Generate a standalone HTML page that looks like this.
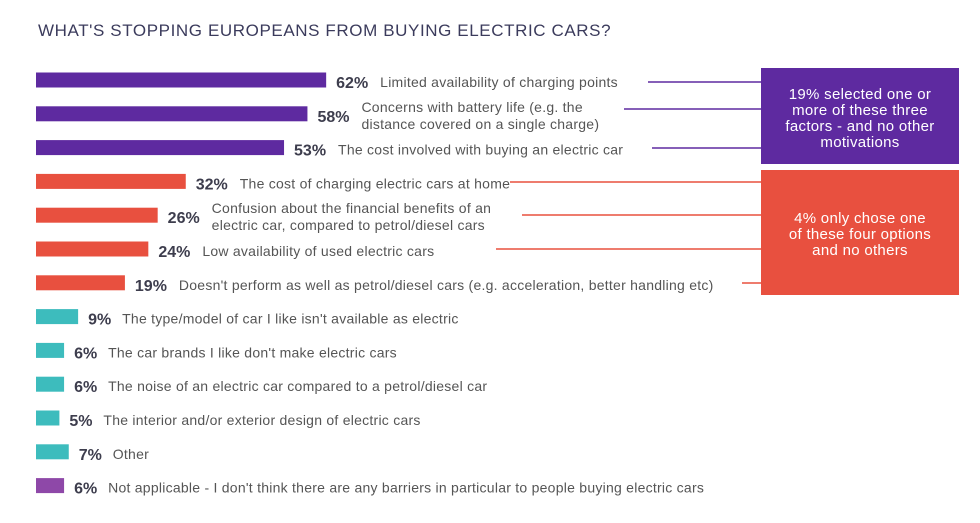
<!DOCTYPE html>
<html><head><meta charset="utf-8"><style>
body{margin:0;background:#fff;width:980px;height:518px;overflow:hidden;font-family:"Liberation Sans",sans-serif}
</style></head><body>
<svg id="chart" width="980" height="518">
<text x="38" y="36" font-size="17" fill="#3b3b5c" letter-spacing="0.6">WHAT'S STOPPING EUROPEANS FROM BUYING ELECTRIC CARS?</text>
<line x1="648" y1="82" x2="761" y2="82" stroke="#5e2aa0" stroke-width="1.5"/>
<line x1="624" y1="109" x2="761" y2="109" stroke="#5e2aa0" stroke-width="1.5"/>
<line x1="652" y1="148" x2="761" y2="148" stroke="#5e2aa0" stroke-width="1.5"/>
<line x1="510" y1="182" x2="761" y2="182" stroke="#e8503f" stroke-width="1.5"/>
<line x1="522" y1="215" x2="761" y2="215" stroke="#e8503f" stroke-width="1.5"/>
<line x1="496" y1="249" x2="761" y2="249" stroke="#e8503f" stroke-width="1.5"/>
<line x1="742" y1="283" x2="761" y2="283" stroke="#e8503f" stroke-width="1.5"/>
<rect x="761" y="68" width="198" height="96" fill="#5e2aa0"/>
<text fill="#fff" font-size="15" letter-spacing="0.3" text-anchor="middle"><tspan x="860" y="99">19% selected one or</tspan><tspan x="860" y="115">more of these three</tspan><tspan x="860" y="131">factors - and no other</tspan><tspan x="860" y="147">motivations</tspan></text>
<rect x="761" y="170" width="198" height="125" fill="#e8503f"/>
<text fill="#fff" font-size="15" letter-spacing="0.3" text-anchor="middle"><tspan x="860" y="223">4% only chose one</tspan><tspan x="860" y="239">of these four options</tspan><tspan x="860" y="255">and no others</tspan></text>
<g id="bars"></g>
</svg>
<script>
const categories=["Limited availability of charging points","Concerns with battery life (e.g. the|distance covered on a single charge)","The cost involved with buying an electric car","The cost of charging electric cars at home","Confusion about the financial benefits of an|electric car, compared to petrol/diesel cars","Low availability of used electric cars","Doesn't perform as well as petrol/diesel cars (e.g. acceleration, better handling etc)","The type/model of car I like isn't available as electric","The car brands I like don't make electric cars","The noise of an electric car compared to a petrol/diesel car","The interior and/or exterior design of electric cars","Other","Not applicable - I don't think there are any barriers in particular to people buying electric cars"];
const values=[62,58,53,32,26,24,19,9,6,6,5,7,6];
const groups=["a","a","a","b","b","b","b","c","c","c","c","c","d"];
const colors={a:"#5e2aa0",b:"#e8503f",c:"#3dbcbd",d:"#8e48a8"};
const X0=36,SCALE=4.68,TOPY=80,STEP=33.8,BH=15;
const xs=v=>X0+v*SCALE, ys=i=>TOPY+i*STEP;
const g=document.getElementById('bars');
const NS="http://www.w3.org/2000/svg";
values.forEach((v,i)=>{
  const r=document.createElementNS(NS,'rect');
  r.setAttribute('x',X0);r.setAttribute('y',ys(i)-BH/2);
  r.setAttribute('width',xs(v)-X0);r.setAttribute('height',BH);
  r.setAttribute('fill',colors[groups[i]]);
  
  
  g.appendChild(r);
  const px=xs(v)+10;
  const p=document.createElementNS(NS,'text');
  p.setAttribute('x',px);p.setAttribute('y',ys(i)+8);
  p.setAttribute('font-size','16');p.setAttribute('font-weight','bold');p.setAttribute('fill','#3d3d4d');
  p.textContent=v+'%';
  
  
  g.appendChild(p);
  const lines=categories[i].split('|');
  const t=document.createElementNS(NS,'text');
  t.setAttribute('font-size','14');t.setAttribute('fill','#555');t.setAttribute('letter-spacing','0.25');
  
  
  const lx=px+(v>=10?44:34);
  lines.forEach((l,k)=>{
    const s=document.createElementNS(NS,'tspan');
    s.setAttribute('x',lx);
    s.setAttribute('y',ys(i)+7+(lines.length>1?(k*17-9):0));
    s.textContent=l;t.appendChild(s);
  });
  g.appendChild(t);
});
</script>
</body></html>
